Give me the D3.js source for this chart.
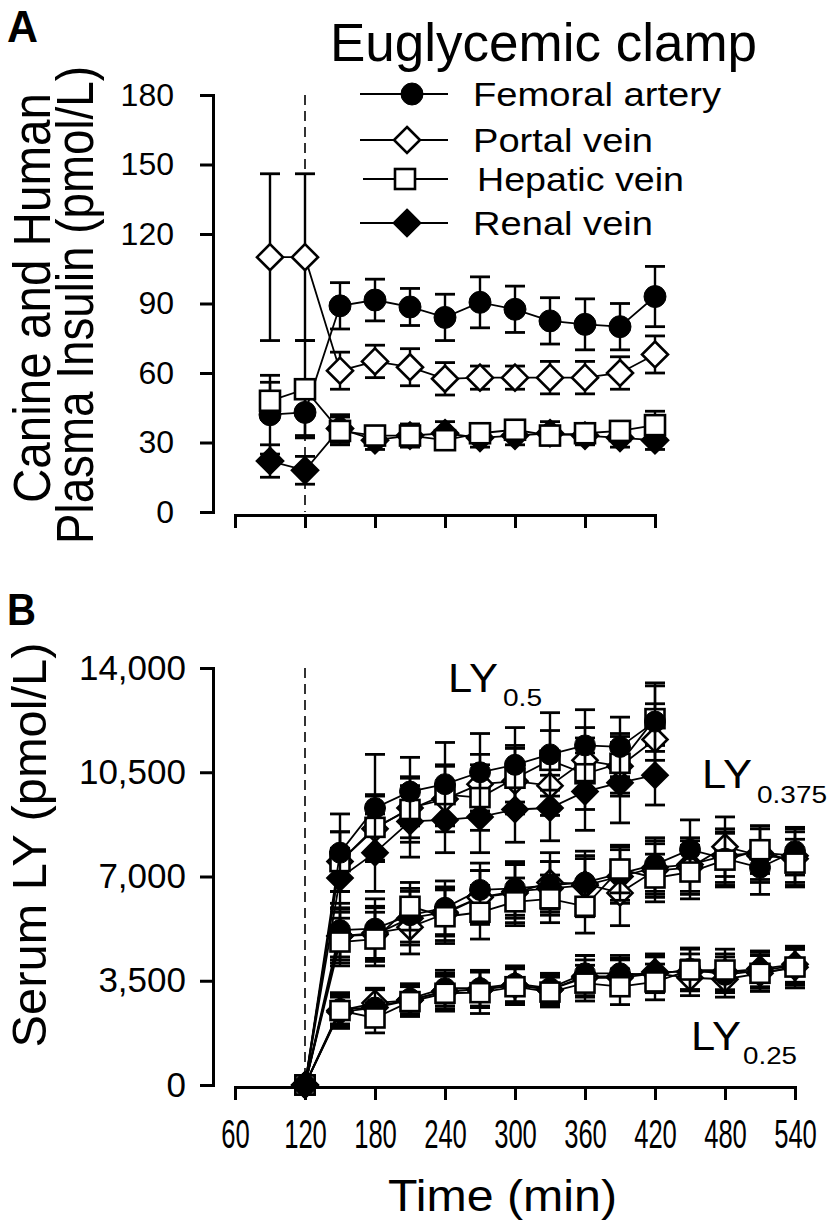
<!DOCTYPE html>
<html><head><meta charset="utf-8">
<script src="https://cdn.jsdelivr.net/npm/d3@7"></script>
<style>
html,body{margin:0;padding:0;background:#fff;}
svg{display:block;font-family:"Liberation Sans",Arial,sans-serif;}
</style></head>
<body>
<svg id="chart" width="829" height="1224"></svg>
<script>
// ---------- DATA ----------
const seriesNames = ["Femoral artery","Portal vein","Hepatic vein","Renal vein"];
const seriesSymbols = ["circle","diamondOpen","square","diamondFilled"];

// Panel A: plasma insulin (pmol/L)
const timesA = [90,120,150,180,210,240,270,300,330,360,390,420];
const femoralA = [42,43,89,91.5,88.5,84,90.5,87.5,82.5,81,80,93];
const femoralAErr = [17,10,10,9,8,10,11,10,10,11,10,13];
const portalA = [110,110,61,65,62.5,57.5,58,58,58,58,60,68];
const portalAErr = [36,36,8,7,8,7,5,5,7,7,7,8];
const hepaticA = [48,53,35,33,33,31,34,35.5,33,34,35,37.5];
const hepaticAErr = [8,21,6,4,4,4,4,4,4,4,4,6];
const renalA = [22,18,36,31,33,34,32,33,34,33,32,31];
const renalAErr = [7,6,6,4,5,5,4,4,5,4,4,4];
const yTicksA = [0,30,60,90,120,150,180];
const xTicksA = [60,120,180,240,300,360,420];

// Panel B: serum LY (pmol/L)
const timesB05 = [120,150,180,210,240,270,300,330,360,390,420];
const timesBLong = [120,150,180,210,240,270,300,330,360,390,420,450,480,510,540];
// LY0.5
const femoral05 = [0,7800,9300,9850,10100,10500,10750,11100,11400,11350,12200];
const femoral05Err = [0,1300,1800,1150,1400,1300,1250,1400,1200,1000,1300];
const portal05 = [0,7500,8600,9300,9600,10100,10200,10050,10900,10700,11600];
const portal05Err = [0,1000,1100,1000,1100,1000,1100,1000,1100,1000,1200];
const hepatic05 = [0,7500,8650,9250,9750,9650,10300,10900,10450,10800,12300];
const hepatic05Err = [0,1000,1100,1100,1000,1100,1100,1000,1200,1000,1100];
const renal05 = [0,6950,7800,8850,8900,9000,9250,9300,9850,10150,10400];
const renal05Err = [0,1000,1300,1200,1100,1200,1100,1100,1300,1350,1000];
// LY0.375
const femoral0375 = [0,5200,5250,5700,5950,6550,6600,6700,6800,7100,7400,7900,7600,7300,7850];
const femoral0375Err = [0,900,1000,900,900,900,900,800,900,900,900,1000,900,900,800];
const portal0375 = [0,5000,5100,5300,5750,6300,6450,6800,6750,6450,7200,7300,8000,7700,7600];
const portal0375Err = [0,900,900,900,900,900,1000,1000,1100,1100,900,900,1000,900,900];
const hepatic0375 = [0,4800,4900,6000,5650,5800,6150,6250,6000,7250,6950,7150,7550,7900,7450];
const hepatic0375Err = [0,800,900,800,900,900,800,800,900,800,800,900,900,800,800];
const renal0375 = [0,5000,5050,5600,5800,6300,6500,6600,6700,7000,7300,7400,7700,7800,7700];
const renal0375Err = [0,800,900,900,800,900,900,900,900,900,900,900,900,900,900];
// LY0.25
const femoral025 = [0,2550,2600,2900,3250,3250,3400,3250,3750,3750,3700,3900,3700,3850,4000];
const femoral025Err = [0,500,600,500,600,600,600,500,600,600,600,700,600,600,600];
const portal025 = [0,2500,2750,2850,3150,3200,3350,3200,3600,3600,3750,3600,3550,3750,3950];
const portal025Err = [0,500,500,500,500,600,600,500,600,600,600,600,600,600,600];
const hepatic025 = [0,2500,2250,2800,3080,3100,3300,3120,3420,3300,3460,3860,3860,3750,3960];
const hepatic025Err = [0,600,500,500,600,700,600,500,600,600,600,700,700,600,700];
const renal025 = [0,2450,2600,2850,3150,3200,3350,3200,3650,3650,3800,3800,3800,3900,4050];
const renal025Err = [0,500,600,500,600,600,600,500,700,600,600,600,600,600,600];
const yTicksB = [0,3500,7000,10500,14000];
const xTicksB = [60,120,180,240,300,360,420,480,540];

// ---------- SETUP ----------
const svg = d3.select("#chart");
const FONT = '"Liberation Sans",Arial,sans-serif';

const xA = d3.scaleLinear().domain([60,420]).range([235,655]);
const yA = d3.scaleLinear().domain([0,180]).range([512,95]);
const xB = d3.scaleLinear().domain([60,540]).range([235,795]);
const yB = d3.scaleLinear().domain([0,14000]).range([1085,668]);

const diamondSq = {draw(ctx,size){const r=Math.sqrt(size/2);ctx.moveTo(0,-r);ctx.lineTo(r,0);ctx.lineTo(0,r);ctx.lineTo(-r,0);ctx.closePath();}};

function marker(g, kind, cx, cy, s) {
  if (kind==="circle") {
    g.append("circle").attr("cx",cx).attr("cy",cy).attr("r",s.r)
      .attr("fill","#000").attr("stroke","#000").attr("stroke-width",1);
  } else if (kind==="square") {
    g.append("rect").attr("x",cx-s.sq/2).attr("y",cy-s.sq/2).attr("width",s.sq).attr("height",s.sq)
      .attr("fill","#fff").attr("stroke","#000").attr("stroke-width",2.6);
  } else {
    const sym = d3.symbol().type(diamondSq).size(2*s.d*s.d);
    g.append("path").attr("d",sym()).attr("transform",`translate(${cx},${cy})`)
      .attr("fill", kind==="diamondFilled" ? "#000" : "#fff")
      .attr("stroke","#000").attr("stroke-width",2.6);
  }
}

function drawSeries(g, xs, ys, errs, kind, x, y, s) {
  const grp = g.append("g");
  xs.forEach((t,i)=>{
    if (!errs[i]) return;
    const px = x(t), hi = y(ys[i]+errs[i]), lo = y(Math.max(0,ys[i]-errs[i]));
    grp.append("line").attr("x1",px).attr("x2",px).attr("y1",hi).attr("y2",lo)
      .attr("stroke","#000").attr("stroke-width",2.4);
    [hi,lo].forEach(v=>grp.append("line").attr("x1",px-s.cap).attr("x2",px+s.cap).attr("y1",v).attr("y2",v)
      .attr("stroke","#000").attr("stroke-width",2.8));
  });
  const line = d3.line().x((d,i)=>x(xs[i])).y(d=>y(d));
  grp.append("path").attr("d",line(ys)).attr("fill","none").attr("stroke","#000").attr("stroke-width",1.8);
  xs.forEach((t,i)=>marker(grp, kind, x(t), y(ys[i]), s));
}

function styleAxis(g){
  g.selectAll("path.domain").attr("stroke","#000").attr("stroke-width",3).attr("stroke-linecap","square");
  g.selectAll(".tick line").attr("stroke","#000").attr("stroke-width",3);
}

// ---------- PANEL A ----------
const sA = {r:11, sq:20, d:13, cap:10};
const gA = svg.append("g");

const yAxA = gA.append("g").attr("transform","translate(213,0)")
  .call(d3.axisLeft(yA).tickValues(yTicksA).tickSize(13).tickSizeOuter(0).tickPadding(26));
styleAxis(yAxA);
yAxA.selectAll("text").attr("font-size",32).attr("font-family",FONT).attr("fill","#000");
const xAxA = gA.append("g").attr("transform","translate(0,515)")
  .call(d3.axisBottom(xA).tickValues(xTicksA).tickSize(13).tickSizeOuter(0).tickFormat(""));
styleAxis(xAxA);

gA.append("line").attr("x1",xA(120)).attr("x2",xA(120)).attr("y1",yA(180)).attr("y2",yA(0))
  .attr("stroke","#000").attr("stroke-width",1.6).attr("stroke-dasharray","10,6");

drawSeries(gA, timesA, renalA, renalAErr, "diamondFilled", xA, yA, sA);
drawSeries(gA, timesA, femoralA, femoralAErr, "circle", xA, yA, sA);
drawSeries(gA, timesA, portalA, portalAErr, "diamondOpen", xA, yA, sA);
drawSeries(gA, timesA, hepaticA, hepaticAErr, "square", xA, yA, sA);

// titles
svg.append("text").attr("x",7).attr("y",42).attr("font-size",44).attr("font-weight","bold")
  .attr("font-family",FONT).attr("textLength",31).attr("lengthAdjust","spacingAndGlyphs").text("A");
svg.append("text").attr("x",330).attr("y",61).attr("font-size",53).attr("font-family",FONT)
  .attr("textLength",427).attr("lengthAdjust","spacingAndGlyphs").text("Euglycemic clamp");
svg.append("text").attr("transform","translate(50,298) rotate(-90)").attr("text-anchor","middle")
  .attr("font-size",51).attr("font-family",FONT)
  .attr("textLength",410).attr("lengthAdjust","spacingAndGlyphs").text("Canine and Human");
svg.append("text").attr("transform","translate(93,305) rotate(-90)").attr("text-anchor","middle")
  .attr("font-size",51).attr("font-family",FONT)
  .attr("textLength",478).attr("lengthAdjust","spacingAndGlyphs").text("Plasma Insulin (pmol/L)");

// legend
const legendRows = [94,140,179,223];
const legendTextX = [473,473,477,473];
const legendTextLen = [248,180,207,180];
const legendSymX = [412,407,405,407];
const sL = {r:11, sq:20, d:13, cap:10};
seriesNames.forEach((nm,i)=>{
  const lg = svg.append("g");
  lg.append("line").attr("x1", i===2?363:360).attr("x2",448).attr("y1",legendRows[i]).attr("y2",legendRows[i])
    .attr("stroke","#000").attr("stroke-width",1.8);
  marker(lg, seriesSymbols[i], legendSymX[i], legendRows[i], sL);
  lg.append("text").attr("x",legendTextX[i]).attr("y",legendRows[i]+12).attr("font-size",33)
    .attr("font-family",FONT).attr("textLength",legendTextLen[i]).attr("lengthAdjust","spacingAndGlyphs").text(nm);
});

// ---------- PANEL B ----------
const sB = {r:10.5, sq:19, d:12.5, cap:10};
const gB = svg.append("g");
const yAxB = gB.append("g").attr("transform","translate(213,0)")
  .call(d3.axisLeft(yB).tickValues(yTicksB).tickSize(13).tickSizeOuter(0).tickPadding(14)
    .tickFormat(d3.format(",")));
styleAxis(yAxB);
yAxB.selectAll("text").attr("font-size",35).attr("font-family",FONT).attr("fill","#000");
const xAxB = gB.append("g").attr("transform","translate(0,1087)")
  .call(d3.axisBottom(xB).tickValues(xTicksB).tickSize(13).tickSizeOuter(0).tickPadding(20));
styleAxis(xAxB);
xAxB.selectAll("text").attr("font-size",40).attr("font-family",FONT).attr("fill","#000")
  .attr("transform","scale(0.64,1)");

gB.append("line").attr("x1",xB(120)).attr("x2",xB(120)).attr("y1",yB(14000)).attr("y2",yB(0))
  .attr("stroke","#000").attr("stroke-width",1.6).attr("stroke-dasharray","10,6");

// LY0.25
drawSeries(gB, timesBLong, renal025, renal025Err, "diamondFilled", xB, yB, sB);
drawSeries(gB, timesBLong, portal025, portal025Err, "diamondOpen", xB, yB, sB);
drawSeries(gB, timesBLong, femoral025, femoral025Err, "circle", xB, yB, sB);
drawSeries(gB, timesBLong, hepatic025, hepatic025Err, "square", xB, yB, sB);
// LY0.375
drawSeries(gB, timesBLong, renal0375, renal0375Err, "diamondFilled", xB, yB, sB);
drawSeries(gB, timesBLong, portal0375, portal0375Err, "diamondOpen", xB, yB, sB);
drawSeries(gB, timesBLong, femoral0375, femoral0375Err, "circle", xB, yB, sB);
drawSeries(gB, timesBLong, hepatic0375, hepatic0375Err, "square", xB, yB, sB);
// LY0.5
drawSeries(gB, timesB05, renal05, renal05Err, "diamondFilled", xB, yB, sB);
drawSeries(gB, timesB05, portal05, portal05Err, "diamondOpen", xB, yB, sB);
drawSeries(gB, timesB05, hepatic05, hepatic05Err, "square", xB, yB, sB);
drawSeries(gB, timesB05, femoral05, femoral05Err, "circle", xB, yB, sB);

// labels B
svg.append("text").attr("x",7).attr("y",625).attr("font-size",44).attr("font-weight","bold")
  .attr("font-family",FONT).attr("textLength",29).attr("lengthAdjust","spacingAndGlyphs").text("B");
svg.append("text").attr("transform","translate(46,845) rotate(-90)").attr("text-anchor","middle")
  .attr("font-size",48).attr("font-family",FONT)
  .attr("textLength",405).attr("lengthAdjust","spacingAndGlyphs").text("Serum LY (pmol/L)");
svg.append("text").attr("x",388).attr("y",1211).attr("font-size",45).attr("font-family",FONT)
  .attr("textLength",229).attr("lengthAdjust","spacingAndGlyphs").text("Time (min)");

const lyLabels = [
  {main:"LY", sub:"0.5", x:448, y:692, sx:503, sy:706, sl:39},
  {main:"LY", sub:"0.375", x:702, y:788, sx:757, sy:803, sl:70},
  {main:"LY", sub:"0.25", x:691, y:1050, sx:743, sy:1064, sl:54}
];
lyLabels.forEach(l=>{
  svg.append("text").attr("x",l.x).attr("y",l.y).attr("font-size",40).attr("font-family",FONT)
    .attr("textLength",50).attr("lengthAdjust","spacingAndGlyphs").text(l.main);
  svg.append("text").attr("x",l.sx).attr("y",l.sy).attr("font-size",23).attr("font-family",FONT)
    .attr("textLength",l.sl).attr("lengthAdjust","spacingAndGlyphs").text(l.sub);
});
</script>
</body></html>
